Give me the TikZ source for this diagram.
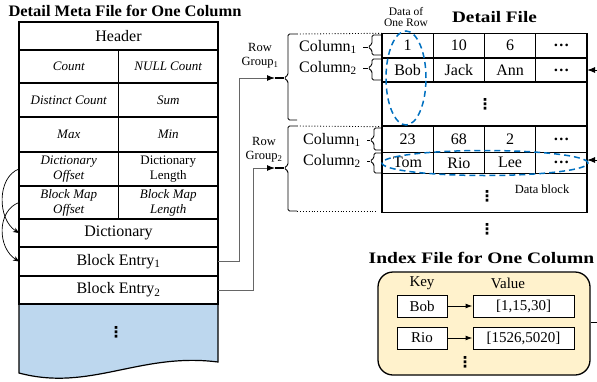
\documentclass[tikz,border=0pt]{standalone}
\usepackage{fontspec}
\setmainfont{Liberation Serif}
\newfontfamily\djv{DejaVu Sans}
\usepackage{graphicx}
\usetikzlibrary{arrows.meta}
\definecolor{bluefill}{HTML}{BDD7EE}
\definecolor{ellblue}{HTML}{0070C0}
\definecolor{idxfill}{HTML}{FFF2CC}
\definecolor{connc}{gray}{0.4}
\newcommand{\vdt}{{\djv\bfseries ⋮}}
\begin{document}
\begin{tikzpicture}[x=1pt,y=-1pt,
  cell/.style={draw, line width=1.2pt, inner sep=0pt, outer sep=0pt, align=center},
  big/.style={font=\fontsize{16}{18}\selectfont},
  ital/.style={font=\fontsize{13}{15}\selectfont\itshape},
  upr/.style={font=\fontsize{13}{15}\selectfont},
  ttl/.style={font=\fontsize{16}{18}\selectfont\bfseries, inner sep=0pt},
  lbl/.style={font=\fontsize{12.5}{14}\selectfont, align=center, inner sep=0pt},
  dts/.style={font=\fontsize{15}{17}\selectfont, inner sep=0pt},
  bracel/.style={line width=0.9pt, rounded corners=1.5pt},
  connector/.style={connc, line width=1pt, -{Latex[length=8pt,width=6pt,black]}},
  ell/.style={ellblue, line width=1.5pt, dash pattern=on 6pt off 4pt},
  dcell/.style={cell, big, minimum width=51.25pt, line width=1.3pt},
  kbox/.style={draw, line width=1pt, fill=white, inner sep=0pt, font=\fontsize{15}{17}\selectfont, minimum height=22pt}
]
\useasboundingbox (0,0) rectangle (597,381);

% ---------- Titles ----------
\node[ttl] (t1) at (125,11) {\scalebox{1.03}[1]{Detail Meta File for One Column}};
\node[ttl] (t2) at (494.5,17) {\scalebox{1.2}[1]{Detail File}};
\node[ttl] (t3) at (481.5,258) {\scalebox{1.22}[1]{Index File for One Column}};

% ---------- Left meta table ----------
\fill[bluefill] (19,304) -- (218,304) -- (218,362) .. controls (140,352) and (90,392) .. (19,373) -- cycle;
\draw[line width=1.2pt] (19,304) -- (19,373) .. controls (90,392) and (140,352) .. (218,362) -- (218,304);
\node[dts] (dots1) at (116,332) {\vdt};

\node[cell,big,minimum width=199pt,minimum height=28pt] (hdr) at (118.5,36) {Header};
\node[cell,ital,minimum width=99.5pt,minimum height=33pt] (cnt) at (68.75,66.5) {Count};
\node[cell,ital,minimum width=99.5pt,minimum height=33pt] (ncnt) at (168.25,66.5) {NULL Count};
\node[cell,ital,minimum width=99.5pt,minimum height=34pt] (dcnt) at (68.75,100) {Distinct Count};
\node[cell,ital,minimum width=99.5pt,minimum height=34pt] (sum) at (168.25,100) {Sum};
\node[cell,ital,minimum width=99.5pt,minimum height=35pt] (max) at (68.75,134.5) {Max};
\node[cell,ital,minimum width=99.5pt,minimum height=35pt] (min) at (168.25,134.5) {Min};
\node[cell,ital,minimum width=99.5pt,minimum height=34pt] (dofs) at (68.75,169) {Dictionary\\Offset};
\node[cell,upr,minimum width=99.5pt,minimum height=34pt] (dlen) at (168.25,169) {Dictionary\\Length};
\node[cell,ital,minimum width=99.5pt,minimum height=33pt] (bofs) at (68.75,202.5) {Block Map\\Offset};
\node[cell,ital,minimum width=99.5pt,minimum height=33pt] (blen) at (168.25,202.5) {Block Map\\Length};
\node[cell,big,minimum width=199pt,minimum height=28pt] (dict) at (118.5,233) {Dictionary};
\node[cell,big,minimum width=199pt,minimum height=29pt] (be1) at (118.5,261.5) {Block Entry\textsubscript{1}};
\node[cell,big,minimum width=199pt,minimum height=28pt] (be2) at (118.5,290) {Block Entry\textsubscript{2}};

% curved pointers
\draw[line width=0.7pt, -{Stealth[length=6pt,width=5pt]}] (dofs.west) .. controls +(-22,8) and +(-22,-14) .. (dict.west);
\draw[line width=0.7pt, -{Stealth[length=6pt,width=5pt]}] (bofs.west) .. controls +(-22,8) and +(-22,-14) .. (be1.west);

% ---------- Detail file table ----------
% group 1
\node[dcell,minimum height=24.7pt] (a11) at (407.6,45.65) {1};
\node[dcell,minimum height=24.7pt] (a12) at (458.9,45.65) {10};
\node[dcell,minimum height=24.7pt] (a13) at (510.1,45.65) {6};
\node[dcell,minimum height=24.7pt] (a14) at (561.4,45.65) {\textbf{\ldots}};
\node[dcell,minimum height=24pt] (a21) at (407.6,70) {Bob};
\node[dcell,minimum height=24pt] (a22) at (458.9,70) {Jack};
\node[dcell,minimum height=24pt] (a23) at (510.1,70) {Ann};
\node[dcell,minimum height=24pt] (a24) at (561.4,70) {\textbf{\ldots}};
\node[dcell,minimum width=205pt,minimum height=44pt] (a3) at (484.5,104) {};
\node[dts] (dots0) at (485,104) {\vdt};
% group 2
\node[dcell,minimum height=25.6pt] (b11) at (407.6,139.5) {23};
\node[dcell,minimum height=25.6pt] (b12) at (458.9,139.5) {68};
\node[dcell,minimum height=25.6pt] (b13) at (510.1,139.5) {2};
\node[dcell,minimum height=25.6pt] (b14) at (561.4,139.5) {\textbf{\ldots}};
\node[dcell,minimum height=21pt] (b21) at (407.6,162.8) {Tom};
\node[dcell,minimum height=21pt] (b22) at (458.9,162.8) {Rio};
\node[dcell,minimum height=21pt] (b23) at (510.1,162.8) {Lee};
\node[dcell,minimum height=21pt] (b24) at (561.4,162.8) {\textbf{\ldots}};
\node[dcell,minimum width=205pt,minimum height=39.4pt] (b3) at (484.5,193) {};
\node[dts] (dots2) at (487,196) {\vdt};
\node[lbl] (dblk) at (542,189) {Data block};
\node[dts] (dots3) at (487,229) {\vdt};

% ellipses
\draw[ell] (406,78) ellipse [x radius=20pt, y radius=47pt];
\draw[ell] (485,163) ellipse [x radius=103pt, y radius=12.5pt];
\node[lbl, font=\fontsize{11.5}{10.5}\selectfont] (dor) at (406,17) {Data of\\One Row};

% incoming arrows from the right edge
\coordinate (r1) at (597,70);
\coordinate (r2) at (597,160);
\draw[line width=1pt, -{Latex[length=8pt,width=6pt]}] (r1) -- (a24.east);
\draw[line width=1pt, -{Latex[length=8pt,width=6pt]}] (r2) -- (b24.east |- r2);

% ---------- Row groups ----------
\node[lbl] (rg1) at (260,55.5) {Row\\Group\textsubscript{1}};
\node[lbl] (rg2) at (264,149.5) {Row\\Group\textsubscript{2}};

\coordinate (g1in) at (275,78);
\coordinate (g1tip) at (284,78);
\coordinate (g2in) at (275,168);
\coordinate (g2tip) at (284,168);
\draw[connector] (be1.east) -- ++(21,0) |- (g1in);
\draw[connector] (be2.east) -- ++(35,0) |- (g2in);
\draw[line width=1.5pt] (g1in) -- (g1tip);
\draw[line width=1.5pt] (g2in) -- (g2tip);

\draw[bracel] (297,34) -- (288,34) -- (288,75) -- (g1tip) -- (288,81) -- (288,120) -- (297,120);
\draw[bracel] (297,126) -- (288,126) -- (288,165) -- (g2tip) -- (288,171) -- (288,211) -- (297,211);
\draw[dotted, line width=0.9pt] (297,34) -- (a11.north west);
\draw[dotted, line width=0.9pt] (297,126) -- (b11.north west);
\draw[dotted, line width=0.9pt] (297,211) -- (378,211);

% column labels and small braces
\node[big] (c11) at (328,47) {Column\textsubscript{1}};
\node[big] (c12) at (328,68) {Column\textsubscript{2}};
\node[big] (c21) at (332,140) {Column\textsubscript{1}};
\node[big] (c22) at (332,161) {Column\textsubscript{2}};

\draw[bracel] (382,35) -- (372,35) -- (372,44) -- (368,47) -- (372,50) -- (372,55) -- (382,55);
\draw[line width=0.9pt] (c11.east) ++(3,0) -- (368,47);
\draw[bracel] (382,59) -- (372,59) -- (372,65) -- (368,68) -- (372,71) -- (372,80) -- (382,80);
\draw[line width=0.9pt] (c12.east) ++(3,0) -- (368,68);
\draw[bracel] (382,128) -- (374,128) -- (374,137) -- (370,140) -- (374,143) -- (374,150) -- (382,150);
\draw[line width=0.9pt] (c21.east) ++(3,0) -- (370,140);
\draw[bracel] (382,153) -- (374,153) -- (374,158) -- (370,161) -- (374,164) -- (374,173) -- (382,173);
\draw[line width=0.9pt] (c22.east) ++(3,0) -- (370,161);

% ---------- Index file ----------
\node[draw, line width=1.3pt, fill=idxfill, rounded corners=15pt, minimum width=212pt, minimum height=103pt, inner sep=0pt] (idx) at (484,323.5) {};
\node[font=\fontsize{15}{17}\selectfont, inner sep=0pt] (key) at (422,283) {Key};
\node[font=\fontsize{15}{17}\selectfont, inner sep=0pt] (val) at (508,283) {Value};
\node[kbox, minimum width=50pt] (kb) at (422,306) {Bob};
\node[kbox, minimum width=101pt] (v1) at (523.5,306) {[1,15,30]};
\node[kbox, minimum width=50pt] (kr) at (422,338) {Rio};
\node[kbox, minimum width=101pt] (v2) at (523.5,338) {[1526,5020]};
\draw[line width=1pt, -{Latex[length=7pt,width=5pt]}] (kb) -- (v1);
\draw[line width=1pt, -{Latex[length=7pt,width=5pt]}] (kr) -- (v2);
\node[dts] (dots4) at (465,362) {\vdt};
\coordinate (out) at (597,322);
\draw[line width=1pt] (idx.east |- out) -- (out);
\end{tikzpicture}
\end{document}
